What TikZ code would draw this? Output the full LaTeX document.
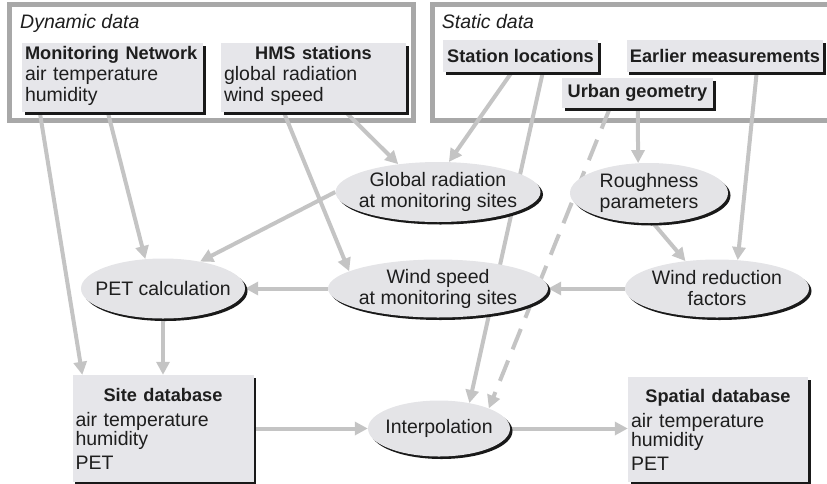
\documentclass[tikz,border=0pt]{standalone}
\usepackage{fontspec}
\setmainfont{Liberation Sans}
\usetikzlibrary{arrows.meta,shapes.geometric,shadows,calc}

\definecolor{boxfill}{HTML}{E6E6EA}
\definecolor{ellfill}{HTML}{E4E4E7}
\definecolor{framegray}{HTML}{A8A8A8}
\definecolor{flowgray}{HTML}{C4C4C4}
\definecolor{ink}{HTML}{1E1E1E}

\newcommand\bodyfont{\fontsize{19.5}{21}\selectfont}
\newcommand\hd{\fontsize{18.2}{21}\selectfont\bfseries}

\pgfdeclarelayer{back}
\pgfdeclarelayer{mid}
\pgfsetlayers{back,mid,main}

\tikzset{
  shade3d/.style={drop shadow={shadow xshift=2.5pt, shadow yshift=-2.5pt,
      fill=black!90, opacity=1}},
  group/.style={draw=framegray, line width=5pt, fill=white, inner sep=0pt},
  grouptitle/.style={anchor=base west, inner sep=0pt, text=ink,
      font=\bodyfont\itshape},
  srcbox/.style={shade3d, rectangle, fill=boxfill, text=ink, inner ysep=0pt,
      inner xsep=3pt, font=\bodyfont},
  listbox/.style={srcbox, align=left},
  proc/.style={shade3d, ellipse, fill=ellfill, text=ink, inner sep=-40pt,
      align=center, font=\bodyfont},
  flow/.style={draw=flowgray, line width=4pt,
      -{Triangle[length=13pt,width=13pt]}},
  guess/.style={flow, dash pattern=on 22pt off 12pt},
}

\begin{document}
\begin{tikzpicture}[x=1pt,y=-1pt]
\useasboundingbox (0,0) rectangle (827,483);

% the two source groups
\begin{pgfonlayer}{back}
  \node[group, minimum width=403.5pt, minimum height=116pt] (dyn) at (211.25,62.5) {};
  \node[group, minimum width=397.5pt, minimum height=116pt] (stat) at (631.25,62.5) {};
\end{pgfonlayer}
\node[grouptitle] (dyntitle) at (20,28.3) {Dynamic data};
\node[grouptitle] (stattitle) at (441.7,28.3) {Static data};

% data sources
\node[listbox, text width=175pt, minimum height=69pt] (mn) at (112.5,77.5)
  {{\hd Monitoring Network}\\air temperature\\humidity\par\vspace{4pt}};
\node[listbox, text width=179pt, minimum height=69pt] (hms) at (313.5,77.5)
  {\makebox[\linewidth]{\hd HMS stations}\\global radiation\\wind speed\par\vspace{4pt}};
\node[srcbox, minimum width=155pt, minimum height=32pt] (stloc) at (520.5,56) {\hd Station locations};
\node[srcbox, minimum width=194pt, minimum height=32pt] (earlier) at (725,56) {\hd Earlier measurements};
\node[srcbox, minimum width=151pt, minimum height=30pt] (urban) at (637.5,93) {\hd Urban geometry};

% processing steps
\node[proc, minimum width=205pt, minimum height=60pt] (grad) at (438,192) {Global radiation\\at monitoring sites};
\node[proc, minimum width=158pt, minimum height=60pt] (rough) at (649,193) {Roughness\\parameters};
\node[proc, minimum width=164pt, minimum height=60pt] (pet) at (163,288.5) {PET calculation};
\node[proc, minimum width=220pt, minimum height=58pt] (wspd) at (438,288.5) {Wind speed\\at monitoring sites};
\node[proc, minimum width=184pt, minimum height=58pt] (wred) at (717,288.5) {Wind reduction\\factors};
\node[proc, minimum width=142pt, minimum height=56pt] (interp) at (439,428.5) {Interpolation};

% results
\node[listbox, text width=175pt, minimum height=107pt, inner xsep=3pt] (site) at (163,428.5)
  {\makebox[\linewidth]{\hd Site database}\\[4pt]air temperature\\[-2pt]humidity\\[3pt]PET};
\node[listbox, text width=174pt, minimum height=105pt, inner xsep=3pt] (spatial) at (718,429.5)
  {\makebox[\linewidth]{\hd Spatial database}\\[4pt]air temperature\\[-2pt]humidity\\[3pt]PET};

% data flow
\begin{pgfonlayer}{mid}
  \draw[flow] ([xshift=18pt]mn.south west) -- ([xshift=10pt]site.north west);
  \draw[flow] ([xshift=86pt]mn.south west) -- (pet.121);
  \draw[flow] ([xshift=63pt]hms.south west) -- (wspd.169);
  \draw[flow] ([xshift=125pt]hms.south west) -- (grad.145);
  \draw[flow] (grad.west) -- (pet.36);
  \draw[flow] (wspd.west) -- (pet.east);
  \draw[flow] (pet.south) -- (site.north);
  \draw[flow] ([xshift=69pt]stloc.south west) -- (grad.70);
  \draw[flow] ([xshift=100pt]stloc.south west) -- (interp.40);
  \draw[guess] ([xshift=48pt]urban.south west) -- (interp.22);
  \draw[flow] ([xshift=76pt]urban.south west) -- (rough.110);
  \draw[flow] (rough.-82) -- (wred.139);
  \draw[flow] ([xshift=130pt]earlier.south west) -- (wred.54);
  \draw[flow] (wred.west) -- (wspd.east);
  \draw[flow] (site.east) -- (interp.west);
  \draw[flow] (interp.east) -- (interp.east -| spatial.west);
\end{pgfonlayer}
\end{tikzpicture}
\end{document}
